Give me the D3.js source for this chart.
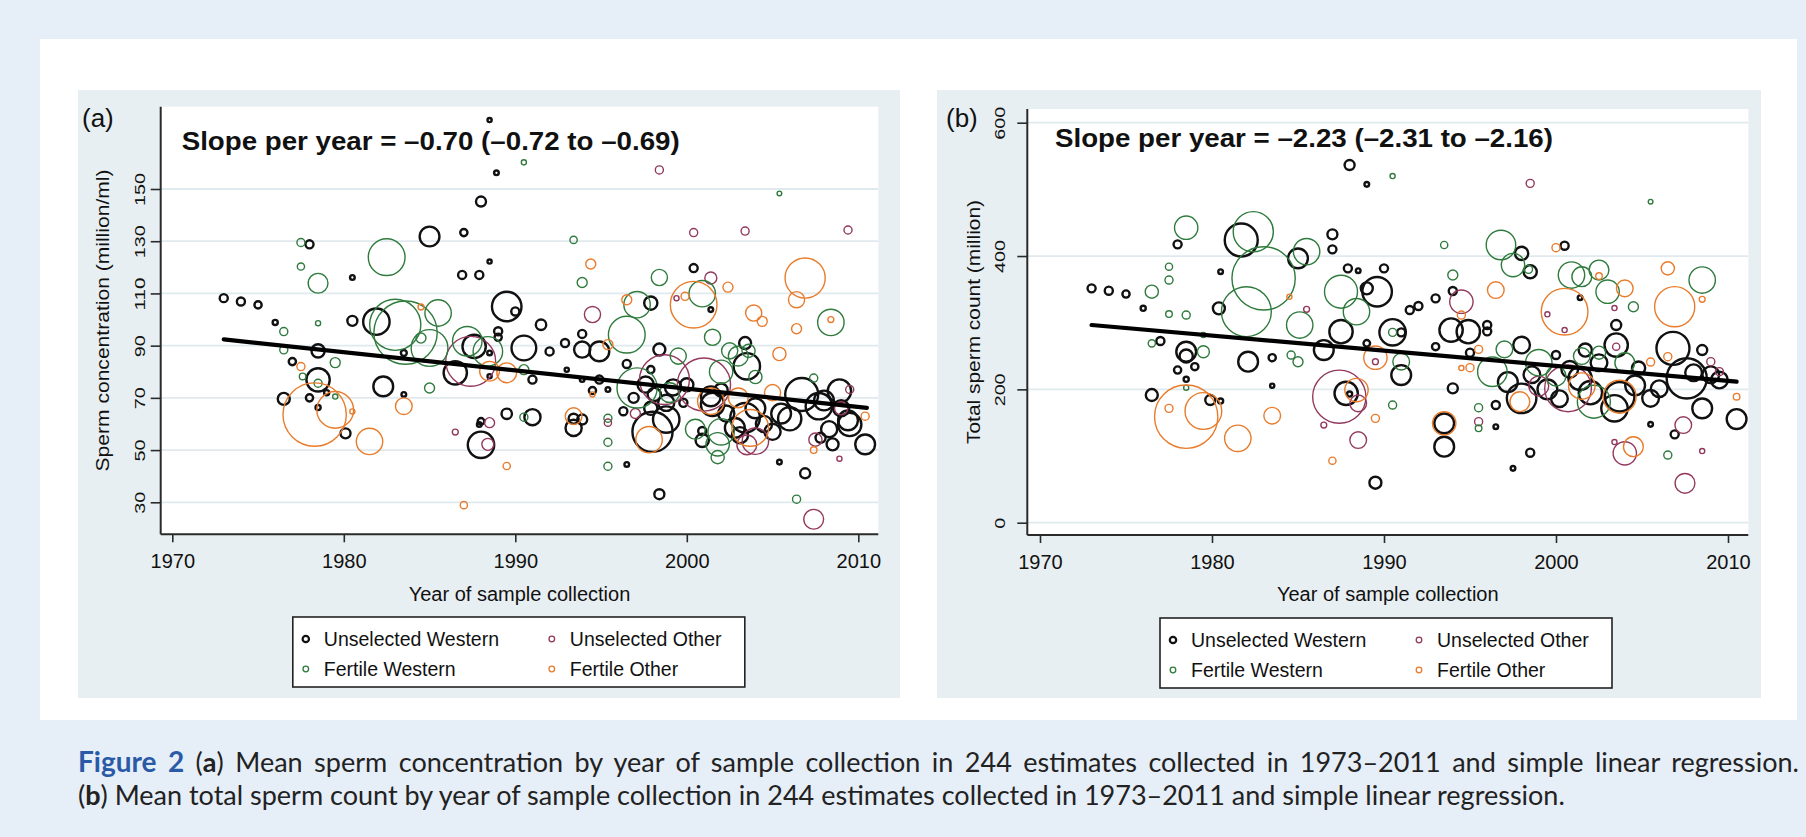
<!DOCTYPE html>
<html>
<head>
<meta charset="utf-8">
<script src="https://cdn.jsdelivr.net/npm/d3@7"></script>
<style>
  body { margin: 0; background: #e6eef8; }
  svg { display: block; }
</style>
</head>
<body>
<script>
// ---- data: [year, value, weight] ----
var years = [1970, 1980, 1990, 2000, 2010];
var concTicks = [30, 50, 70, 90, 110, 130, 150];
var countTicks = [0, 200, 400, 600];
var groups = ["Unselected Western", "Unselected Other", "Fertile Western", "Fertile Other"];

var concUW = [
  [1973.0,108.2,1.5],[1974.0,106.9,1.5],[1975.0,105.6,1.2],[1976.0,98.9,0.6],[1977.0,83.9,1.2],
  [1976.5,69.6,3.3],[1978.0,128.8,1.5],[1978.5,88.0,4],[1978.5,76.9,12.5],[1978.0,70.0,1.2],
  [1978.5,66.3,0.6],[1979.0,72.0,0.6],[1980.1,56.4,2.3],[1980.5,116.1,0.5],[1980.5,99.5,2.3],
  [1981.9,99.2,16],[1982.3,74.4,9],[1983.5,87.2,0.8],[1983.5,71.3,0.5],[1985.0,131.8,9],
  [1987.0,133.3,1.2],[1988.0,145.2,2.3],[1988.5,176.4,0.4],[1988.9,156.2,0.5],[1988.5,122.2,0.4],
  [1986.9,117.1,1.5],[1987.9,117.1,1.5],[1989.5,105.0,20],[1990.0,103.1,1.5],[1987.6,89.7,12.5],
  [1986.5,79.6,12.5],[1989.0,95.5,1.5],[1989.0,93.2,1.2],[1988.5,87.2,0.5],[1988.5,78.3,0.4],
  [1990.5,89.1,14],[1991.5,98.0,2.5],[1992.0,87.8,1.5],[1991.0,77.0,1.5],[1989.5,63.9,2.5],
  [1991.0,62.6,6],[1988.0,61.0,1.0],[1987.9,59.8,0.5],[1988.0,52.0,16],[1992.9,91.0,1.5],
  [1993.9,88.5,6],[1993.9,94.5,1.5],[1994.9,87.8,9],[1993.0,80.8,0.4],[1993.9,77.0,0.5],
  [1994.5,72.8,1.2],[1994.9,77.0,1.5],[1995.4,73.2,0.5],[1993.4,62.0,2.3],[1993.4,58.5,6],
  [1993.9,61.7,2.3],[1996.5,44.5,0.5],[1996.3,64.9,1.5],[1996.5,83.0,1.5],[1997.9,106.3,4],
  [1998.4,88.5,3.3],[1997.9,80.8,1.2],[1997.6,75.1,6],[1998.1,71.3,4],[1998.8,68.1,6],
  [1999.8,68.1,1.5],[1998.0,57.0,37],[1998.8,61.7,16],[1998.4,33.1,2.3],[2000.4,119.7,1.5],
  [2001.4,103.8,0.5],[2001.4,70.6,9],[2001.5,67.5,12.5],[2000.9,57.3,1.5],[2000.9,53.7,4],
  [2002.8,58.5,9],[2003.4,62.4,20],[2003.1,55.7,6],[2003.4,91.0,3.3],[2003.5,82.1,16],
  [2005.4,45.4,0.5],[2006.7,71.3,25],[2006.9,41.1,2.3],[2007.7,66.8,16],[2007.8,54.7,2.3],
  [2008.5,52.2,3.3],[2008.9,72.6,12.5],[2009.4,61.4,9],[2009.5,59.8,12.5],[2010.4,52.2,9],
  [1997.9,66.0,4],[1999.2,74.0,6],[2000.0,75.0,4],[2002.3,64.0,6],[2004.0,66.0,9],
  [2004.5,60.0,6],[2005.5,64.0,9],[2005.0,57.0,6],[2006.0,62.0,12.5],[2008.0,69.0,9],
  [2009.0,66.0,6],[2008.3,58.0,6],[1996.9,70.0,2.3],[2002.0,73.0,4]
];
var concUO = [
  [1986.5,56.9,0.8],[1987.4,84.0,57],[1988.5,60.5,2.3],[1988.4,52.2,3.3],[1994.5,101.9,6],
  [1995.4,60.5,1.2],[1997.0,64.0,2.3],[1998.4,157.3,1.5],[1998.7,77.0,57],[1999.4,108.2,0.6],
  [2000.4,133.3,1.5],[2001.0,75.1,65],[2001.4,115.9,3.3],[2003.4,133.9,1.5],[2004.0,53.4,16],
  [2003.5,52.0,9],[2007.4,23.5,9],[2007.5,54.0,4],[2008.9,46.7,0.6],[2009.4,134.3,1.5],
  [2009.5,73.2,1.5],[2009.0,66.0,4]
];
var concFW = [
  [1976.5,95.4,1.5],[1976.5,88.4,1.5],[1977.6,78.2,1.0],[1977.5,129.5,1.5],[1977.5,120.3,1.2],
  [1978.5,113.9,9],[1978.5,98.6,0.6],[1978.5,75.6,1.5],[1979.5,83.5,2.3],[1979.5,70.5,0.6],
  [1982.5,123.9,31],[1983.0,98.0,60],[1983.6,95.0,92],[1984.5,92.9,2.3],[1985.0,89.1,31],
  [1985.0,73.8,2.3],[1985.5,102.5,16],[1987.2,91.7,20],[1988.4,87.8,20],[1990.5,160.2,0.6],
  [1990.5,80.8,2.3],[1990.5,62.6,1.5],[1993.4,130.5,1.2],[1993.9,114.2,2.3],[1995.4,62.2,1.5],
  [1995.4,53.0,1.5],[1995.4,43.8,1.5],[1997.1,105.7,16],[1996.5,94.2,31],[1997.1,73.8,37],
  [1998.4,116.1,6],[1999.0,72.0,9],[1999.5,86.0,6],[2000.9,109.9,16],[2001.5,93.2,6],
  [2000.5,58.0,9],[2002.0,57.0,16],[2001.8,52.2,12.5],[2001.8,47.3,4],[2002.0,80.0,12.5],
  [2002.5,88.0,6],[2003.0,86.0,9],[2003.6,88.0,4],[2004.0,78.0,4],[2005.4,148.3,0.5],
  [2008.4,98.9,16],[2007.4,77.6,1.5],[2006.4,31.2,1.5]
];
var concFO = [
  [1977.5,82.0,1.5],[1978.3,63.6,92],[1979.5,65.4,31],[1980.5,64.8,0.6],[1981.5,53.3,16],
  [1983.5,66.8,6.4],[1984.5,104.8,0.8],[1987.0,28.9,1.2],[1988.5,80.2,9],[1989.5,79.6,9],
  [1989.5,43.9,1.2],[1993.4,63.0,6.4],[1994.4,121.3,2.3],[1994.5,71.3,0.6],[1995.4,90.4,2.3],
  [1996.5,107.6,2.3],[1997.8,54.0,16],[1999.9,108.9,1.5],[2000.4,105.7,50],[2001.4,68.7,16],
  [2002.4,112.4,2.3],[2003.7,58.5,31],[2003.9,102.5,6],[2004.4,99.3,2.3],[2005.4,86.8,4],
  [2006.9,115.9,37],[2006.4,107.6,6],[2006.4,96.5,2.3],[2008.4,100.0,0.8],[2007.4,50.0,1.0],
  [2010.4,63.0,1.5],[2005.0,72.0,6],[2003.0,70.0,9]
];

var countUW = [
  [1973.0,351.5,1.5],[1974.0,348.0,1.5],[1975.0,343.0,1.2],[1976.0,321.5,0.6],[1977.0,272.5,1.5],
  [1976.5,191.5,3.3],[1978.0,417.5,1.5],[1978.0,229.0,1.2],[1978.5,256.5,9],[1978.5,250.0,4],
  [1979.0,234.0,1.2],[1978.5,215.0,0.6],[1979.9,184.0,2.3],[1980.5,182.5,0.6],[1980.5,376.5,0.5],
  [1980.4,321.5,3.3],[1981.7,424.0,25],[1982.1,241.5,9],[1983.5,247.5,1.2],[1983.5,205.5,0.4],
  [1985.0,396.5,9],[1987.0,432.5,2.3],[1987.0,410.0,1.5],[1988.0,536.5,2.3],[1989.0,507.5,0.5],
  [1987.9,381.5,1.5],[1988.5,378.0,0.5],[1990.0,381.5,1.5],[1989.0,351.5,3.3],[1989.6,346.5,20],
  [1991.5,319.0,1.5],[1992.0,325.0,1.5],[1993.0,336.5,1.5],[1994.0,347.5,1.5],[1987.5,286.5,12.5],
  [1986.5,259.0,9],[1990.5,285.5,16],[1991.0,285.5,1.5],[1993.9,289.0,12.5],[1994.9,286.5,12.5],
  [1996.0,296.5,1.5],[1996.0,287.0,1.5],[1989.0,269.0,1.0],[1993.0,264.0,1.2],[1991.0,221.5,9],
  [1987.8,194.0,12.5],[1988.0,193.0,0.6],[1994.0,201.5,2.3],[1993.5,149.0,9],[1993.5,114.0,9],
  [1989.5,60.0,3.3],[1995.0,255.0,1.5],[1996.5,176.5,1.5],[1996.5,144.0,0.5],[1997.5,81.5,0.5],
  [1998.0,404.0,4],[1998.5,376.5,4],[1998.0,266.5,6.4],[1998.0,186.5,20],[1997.2,211.0,9],
  [1998.5,105.0,1.5],[2000.0,251.5,1.5],[2000.5,415.5,1.5],[2001.4,337.5,0.5],[2001.7,259.0,4],
  [2001.4,216.5,12.5],[2000.8,230.0,6.4],[2002.5,240.0,6.4],[2003.5,296.5,2.3],[2003.5,266.5,12.5],
  [2003.4,171.5,16],[2003.7,189.0,20],[2005.5,186.5,6.4],[2005.5,147.5,0.5],[2006.8,261.5,25],
  [2006.9,132.5,1.5],[2007.6,216.5,37],[2008.5,259.0,2.3],[2008.5,171.5,9],[2008.0,225.0,6.4],
  [2009.5,214.0,6.4],[2009.0,222.0,6.4],[2010.5,155.5,9],[2002.0,195.0,12.5],[1999.5,200.0,9],
  [1998.6,222.0,6.4],[2000.2,186.0,6.4],[2004.6,206.0,9],[2006.0,201.0,6.4],[2004.8,232.0,4]
];
var countUO = [
  [1986.5,146.5,0.8],[1985.5,320.0,0.8],[1987.4,189.0,65],[1988.5,179.0,6.4],[1988.5,124.0,6.4],
  [1989.5,241.5,0.8],[1994.5,331.5,12.5],[1995.5,151.5,1.5],[1998.5,509.0,1.5],[1999.5,312.5,0.6],
  [2000.5,289.0,0.6],[2000.7,201.5,50],[2003.5,264.0,1.2],[2003.4,322.0,0.6],[2004.0,104.0,12.5],
  [2003.4,121.0,0.6],[2007.4,146.5,6.4],[2008.5,107.5,0.6],[2007.5,59.0,9],[2009.0,241.5,1.5],
  [2009.5,226.5,1.5],[1999.0,205.0,9]
];
var countFW = [
  [1976.5,346.5,4],[1977.5,364.0,1.5],[1977.5,384.0,1.2],[1977.5,313.0,1.0],[1978.5,311.5,1.5],
  [1978.5,442.5,12.5],[1976.5,269.0,1.2],[1979.5,281.5,0.6],[1979.5,256.5,3.3],[1978.5,202.5,0.6],
  [1982.4,436.5,37],[1983.0,366.5,92],[1982.0,316.5,57],[1985.5,406.5,16],[1987.5,346.5,25],
  [1988.4,316.5,16],[1985.1,296.5,16],[1984.6,251.5,1.5],[1985.0,241.5,2.3],[1990.5,520.0,0.6],
  [1990.5,285.5,1.5],[1991.0,241.5,6.4],[1990.5,176.5,1.5],[1993.5,416.5,1.2],[1994.0,371.5,2.3],
  [1995.5,172.5,1.5],[1995.5,141.5,1.0],[1996.3,226.5,20],[1996.8,416.5,20],[1997.5,386.5,12.5],
  [1998.4,380.0,1.5],[2000.9,371.5,16],[2001.5,369.0,9],[2002.5,379.0,9],[2003.0,346.5,12.5],
  [2004.5,324.0,2.3],[2005.5,481.5,0.5],[2008.5,364.0,16],[2006.5,101.5,1.5],[2002.2,181.5,25],
  [2001.5,250.0,6.4],[2002.5,255.0,4],[1999.0,240.0,16],[2000.0,220.0,9],[2004.0,240.0,9],
  [1997.0,260.0,6.4]
];
var countFO = [
  [1977.5,171.5,1.5],[1978.5,159.0,92],[1979.5,167.5,31],[1981.5,126.5,16],[1983.5,160.5,6.4],
  [1984.5,339.0,0.6],[1987.0,93.0,1.2],[1988.4,199.0,12.5],[1989.5,247.5,12.5],[1989.5,156.5,1.5],
  [1993.5,149.0,12.5],[1994.5,311.5,1.5],[1995.0,232.5,1.5],[1994.5,232.0,0.6],[1995.5,260.0,1.5],
  [1996.5,349.0,6.4],[1997.9,181.5,9],[2000.0,412.5,1.5],[2000.5,316.5,50],[2002.5,370.0,1.0],
  [2004.0,351.5,6.4],[2003.7,189.0,25],[2004.5,114.0,9],[2006.5,381.5,4],[2006.9,324.0,37],
  [2008.5,335.0,0.8],[2006.5,249.0,1.5],[2005.5,241.0,1.5],[2010.5,189.0,1.0],[2001.5,205.0,16]
];

// fitted regression lines, end points
var concFit = [[1973, 92.4], [2010.5, 66.2]];
var countFit = [[1973, 296.5], [2010.5, 211.5]];

// ---- styles ----
var groupColors = ["#111111", "#93395e", "#2f7b3d", "#e97c2c"];
var groupStroke = [2.4, 1.4, 1.4, 1.4];
var gridColor = "#e0e9ed";
var axisColor = "#2a2a2a";
var sans = "'Liberation Sans', Arial, Helvetica, sans-serif";

var W = 1806, H = 837;
var svg = d3.select("body").append("svg").attr("width", W).attr("height", H);
svg.append("rect").attr("width", W).attr("height", H).attr("fill", "#e6eef8");
svg.append("rect").attr("x", 40).attr("y", 39).attr("width", 1757).attr("height", 681).attr("fill", "#ffffff");

var radius = d3.scaleSqrt().domain([0, 100]).range([0, 33]);

var panels = [
  {
    key: "a", frame: [78, 90, 900, 698], plot: [160.7, 106.7, 878.3, 534.3],
    xRange: [172.3, 858.3], yDomain: [30, 150], yRange: [502.3, 189], yTicks: concTicks,
    labelGap: 15.7, series: [concUW, concUO, concFW, concFO], fit: concFit,
    label: "(a)", labelPos: [82, 127],
    title: "Slope per year = \u20130.70 (\u20130.72 to \u20130.69)", titlePos: [181.7, 150],
    yTitle: "Sperm concentration (million/ml)", yTitleX: 109, yTitleLen: 302,
    legendPos: [292.8, 617]
  },
  {
    key: "b", frame: [937, 90, 1761, 698], plot: [1027.3, 109, 1748.3, 535],
    xRange: [1040, 1728], yDomain: [0, 600], yRange: [522.7, 122.7], yTicks: countTicks,
    labelGap: 22, series: [countUW, countUO, countFW, countFO], fit: countFit,
    label: "(b)", labelPos: [946, 127],
    title: "Slope per year = \u20132.23 (\u20132.31 to \u20132.16)", titlePos: [1055, 147],
    yTitle: "Total sperm count (million)", yTitleX: 980, yTitleLen: 244,
    legendPos: [1160, 618]
  }
];

panels.forEach(drawPanel);
drawCaption();

function drawPanel(p) {
  var g = svg.append("g").attr("class", "panel-" + p.key);
  var left = p.plot[0], top = p.plot[1], right = p.plot[2], bottom = p.plot[3];

  g.append("rect")
    .attr("x", p.frame[0]).attr("y", p.frame[1])
    .attr("width", p.frame[2] - p.frame[0]).attr("height", p.frame[3] - p.frame[1])
    .attr("fill", "#e8eff2");
  g.append("rect")
    .attr("x", left).attr("y", top)
    .attr("width", right - left).attr("height", bottom - top)
    .attr("fill", "#ffffff");

  var x = d3.scaleLinear().domain([1970, 2010]).range(p.xRange);
  var y = d3.scaleLinear().domain(p.yDomain).range(p.yRange);

  // gridlines
  g.append("g").selectAll("line")
    .data(p.yTicks).enter().append("line")
    .attr("x1", left).attr("x2", right)
    .attr("y1", function (d) { return y(d); })
    .attr("y2", function (d) { return y(d); })
    .attr("stroke", gridColor).attr("stroke-width", 1.8);

  // bubbles
  var clipId = "clip-" + p.key;
  g.append("clipPath").attr("id", clipId).append("rect")
    .attr("x", left).attr("y", top).attr("width", right - left).attr("height", bottom - top);
  var marks = g.append("g").attr("clip-path", "url(#" + clipId + ")");
  p.series.forEach(function (rows, i) {
    marks.append("g").selectAll("circle")
      .data(rows).enter().append("circle")
      .attr("cx", function (d) { return x(d[0]); })
      .attr("cy", function (d) { return y(d[1]); })
      .attr("r", function (d) { return radius(d[2]); })
      .attr("fill", "none")
      .attr("stroke", groupColors[i])
      .attr("stroke-width", groupStroke[i]);
  });

  // fitted line
  marks.append("path")
    .datum(p.fit)
    .attr("d", d3.line().x(function (d) { return x(d[0]); }).y(function (d) { return y(d[1]); }))
    .attr("stroke", "#000").attr("stroke-width", 4.2).attr("fill", "none")
    .attr("stroke-linecap", "round");

  // x axis
  var xAxis = g.append("g")
    .attr("transform", "translate(0," + bottom + ")")
    .call(d3.axisBottom(x).tickValues(years).tickFormat(d3.format("d")).tickSize(8).tickSizeOuter(0));
  xAxis.select(".domain").remove();
  xAxis.selectAll("line").attr("stroke", axisColor).attr("stroke-width", 1.6);
  xAxis.selectAll("text")
    .attr("font-family", sans).attr("font-size", 20).attr("fill", "#111")
    .attr("y", 34).attr("dy", 0);
  g.append("line")
    .attr("x1", left).attr("x2", right).attr("y1", bottom).attr("y2", bottom)
    .attr("stroke", axisColor).attr("stroke-width", 2);

  // y axis, labels turned and drawn long and thin like the original
  var yAxis = g.append("g")
    .attr("transform", "translate(" + left + ",0)")
    .call(d3.axisLeft(y).tickValues(p.yTicks).tickSize(10).tickSizeOuter(0));
  yAxis.select(".domain").remove();
  yAxis.selectAll("line").attr("stroke", axisColor).attr("stroke-width", 1.6);
  yAxis.selectAll("text")
    .attr("font-family", sans).attr("font-size", 15.5).attr("fill", "#111")
    .attr("text-anchor", "middle")
    .attr("transform", "rotate(-90)")
    .attr("x", 0).attr("dy", 0)
    .attr("y", -p.labelGap)
    .attr("textLength", function (d) { return String(d).length * 11; })
    .attr("lengthAdjust", "spacingAndGlyphs");
  g.append("line")
    .attr("x1", left).attr("x2", left).attr("y1", top).attr("y2", bottom)
    .attr("stroke", axisColor).attr("stroke-width", 2);

  // axis titles
  g.append("text")
    .attr("transform", "translate(" + p.yTitleX + "," + ((top + bottom) / 2) + ") rotate(-90)")
    .attr("text-anchor", "middle")
    .attr("font-family", sans).attr("font-size", 18).attr("fill", "#111")
    .attr("textLength", p.yTitleLen).attr("lengthAdjust", "spacingAndGlyphs")
    .text(p.yTitle);
  g.append("text")
    .attr("x", (left + right) / 2).attr("y", 601)
    .attr("text-anchor", "middle")
    .attr("font-family", sans).attr("font-size", 20).attr("fill", "#111")
    .text("Year of sample collection");

  // panel label and slope annotation
  g.append("text")
    .attr("x", p.labelPos[0]).attr("y", p.labelPos[1])
    .attr("font-family", sans).attr("font-size", 26).attr("fill", "#111")
    .text(p.label);
  g.append("text")
    .attr("x", p.titlePos[0]).attr("y", p.titlePos[1])
    .attr("font-family", sans).attr("font-size", 26).attr("font-weight", "bold").attr("fill", "#111")
    .attr("textLength", 498).attr("lengthAdjust", "spacingAndGlyphs")
    .text(p.title);

  drawLegend(g, p.legendPos[0], p.legendPos[1]);
}

function drawLegend(g, lx, ly) {
  var lg = g.append("g").attr("transform", "translate(" + lx + "," + ly + ")");
  lg.append("rect")
    .attr("width", 452).attr("height", 70)
    .attr("fill", "#fff").attr("stroke", "#222").attr("stroke-width", 1.6);
  var cols = [13, 259], rows = [22, 52];
  groups.forEach(function (name, i) {
    var cx = cols[i % 2], cy = rows[Math.floor(i / 2)];
    lg.append("circle")
      .attr("cx", cx).attr("cy", cy).attr("r", i === 0 ? 3.2 : 2.8)
      .attr("fill", "none").attr("stroke", groupColors[i])
      .attr("stroke-width", i === 0 ? 2.2 : 1.3);
    lg.append("text")
      .attr("x", cx + 18).attr("y", cy + 7)
      .attr("font-family", sans).attr("font-size", 19.5).attr("fill", "#111")
      .text(name);
  });
}

function drawCaption() {
  var cap = "Lato, 'Open Sans', sans-serif";
  var l1 = svg.append("text")
    .attr("x", 78).attr("y", 772)
    .attr("font-family", cap).attr("font-size", 27).attr("fill", "#222");
  l1.append("tspan").attr("font-weight", "bold").attr("fill", "#2a5aa6").attr("font-size", 28).text("Figure 2");
  l1.append("tspan").text(" (");
  l1.append("tspan").attr("font-weight", "bold").text("a");
  l1.append("tspan").text(") Mean sperm concentration by year of sample collection in 244 estimates collected in 1973\u20132011 and simple linear regression.");
  // first line is justified to the right edge
  var natural = l1.node().getComputedTextLength();
  var gaps = l1.text().split(" ").length - 1;
  l1.attr("word-spacing", Math.max(0, ((1799 - 78) - natural) / gaps));

  var l2 = svg.append("text")
    .attr("x", 78).attr("y", 805)
    .attr("font-family", cap).attr("font-size", 27).attr("fill", "#222");
  l2.append("tspan").text("(");
  l2.append("tspan").attr("font-weight", "bold").text("b");
  l2.append("tspan").text(") Mean total sperm count by year of sample collection in 244 estimates collected in 1973\u20132011 and simple linear regression.");
}
</script>
</body>
</html>
